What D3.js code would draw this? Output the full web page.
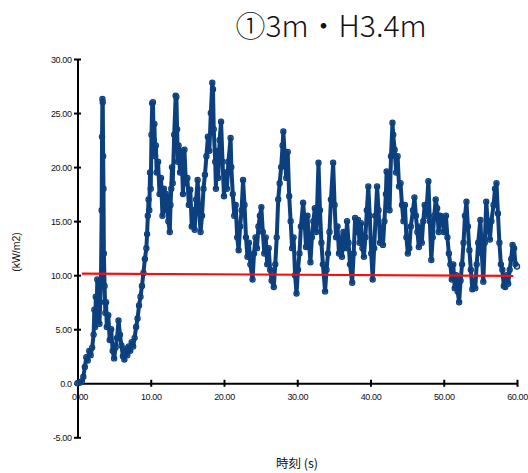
<!DOCTYPE html>
<html>
<head>
<meta charset="utf-8">
<script src="https://cdn.jsdelivr.net/npm/d3@7"></script>
<style>
  body { margin: 0; background: #fff; }
  svg { display: block; }
  .tick text { font-family: "Liberation Sans", Arial, sans-serif; font-size: 9px; letter-spacing: -0.4px; fill: #111; }
</style>
</head>
<body>
<script>
'use strict';

// series (time in s, value in kW/m2)
var times = [
  0.0, 0.2, 0.4, 0.6, 0.8, 1.0, 1.2, 1.4, 1.6, 1.8, 2.0, 2.2, 2.3, 2.4, 2.5, 2.6, 2.7, 2.8, 2.9, 3.0,
  3.1, 3.2, 3.3, 3.35, 3.4, 3.45, 3.5, 3.55, 3.6, 3.7, 3.8, 3.9, 4.0, 4.2, 4.4, 4.6, 4.8, 5.0, 5.2, 5.4,
  5.6, 5.8, 6.0, 6.2, 6.4, 6.6, 6.8, 7.0, 7.2, 7.4, 7.6, 7.8, 8.0, 8.2, 8.4, 8.6, 8.8, 9.0, 9.2, 9.4,
  9.5, 9.6, 9.7, 9.8, 9.9, 10.0, 10.1, 10.2, 10.3, 10.4, 10.5, 10.6, 10.7, 10.8, 11.0, 11.2, 11.4, 11.6, 11.8, 12.0,
  12.2, 12.4, 12.6, 12.7, 12.8, 12.9, 13.0, 13.2, 13.4, 13.5, 13.6, 13.7, 13.8, 14.0, 14.2, 14.4, 14.6, 14.8, 15.0, 15.2,
  15.4, 15.6, 15.8, 16.0, 16.2, 16.4, 16.6, 16.8, 17.0, 17.2, 17.4, 17.6, 17.8, 18.0, 18.2, 18.4, 18.5, 18.6, 18.8, 18.9,
  19.0, 19.2, 19.4, 19.6, 19.8, 20.0, 20.2, 20.4, 20.6, 20.9, 21.0, 21.2, 21.4, 21.6, 21.8, 22.0, 22.2, 22.4, 22.6, 22.8,
  23.0, 23.2, 23.4, 23.6, 23.9, 24.1, 24.3, 24.5, 24.7, 24.9, 25.1, 25.3, 25.5, 25.7, 25.9, 26.1, 26.3, 26.5, 26.8, 27.0,
  27.2, 27.4, 27.6, 27.8, 28.0, 28.1, 28.3, 28.5, 28.7, 28.9, 29.1, 29.3, 29.5, 29.7, 29.9, 30.1, 30.3, 30.5, 30.8, 31.0,
  31.2, 31.4, 31.6, 31.8, 32.0, 32.2, 32.4, 32.6, 32.9, 33.1, 33.3, 33.5, 33.8, 34.0, 34.2, 34.4, 34.6, 34.9, 35.1, 35.3,
  35.5, 35.7, 35.9, 36.1, 36.3, 36.6, 36.8, 37.0, 37.2, 37.5, 37.7, 37.9, 38.1, 38.3, 38.5, 38.7, 38.9, 39.1, 39.3, 39.5,
  39.7, 39.9, 40.1, 40.3, 40.5, 40.7, 40.9, 41.1, 41.3, 41.5, 41.7, 41.9, 42.1, 42.2, 42.4, 42.6, 42.8, 43.0, 43.1, 43.3,
  43.5, 43.7, 43.9, 44.1, 44.3, 44.5, 44.7, 44.9, 45.1, 45.3, 45.5, 45.8, 46.0, 46.2, 46.4, 46.6, 46.8, 47.0, 47.2, 47.4,
  47.6, 47.9, 48.1, 48.3, 48.5, 48.7, 48.9, 49.1, 49.3, 49.5, 49.8, 50.0, 50.3, 50.5, 50.7, 50.9, 51.1, 51.3, 51.5, 51.7,
  51.9, 52.1, 52.3, 52.5, 52.7, 52.9, 53.1, 53.3, 53.5, 53.7, 53.9, 54.1, 54.3, 54.5, 54.7, 55.0, 55.2, 55.4, 55.6, 55.8,
  56.0, 56.3, 56.5, 56.8, 57.0, 57.2, 57.4, 57.6, 57.8, 58.0, 58.2, 58.4, 58.6, 58.8, 59.0, 59.2, 59.4, 59.6, 59.8, 60.0
];
var heatFlux = [
  0.0, 0.05, 0.1, 0.2, 0.6, 1.5, 2.4, 2.1, 3.0, 2.6, 3.3, 4.5, 6.8, 5.2, 8.0, 6.0, 9.6, 7.0, 8.5, 5.5,
  7.5, 9.5, 16.0, 22.8, 26.3, 26.0, 21.0, 18.0, 12.0, 9.0, 6.5, 7.5, 5.2, 6.3, 4.0, 5.0, 3.0, 2.3, 3.3, 4.2,
  5.8, 4.5, 3.5, 2.5, 2.2, 3.2, 2.6, 3.4, 3.0, 3.8, 3.4, 4.2, 5.2, 6.0, 7.2, 8.0, 9.0, 10.2, 11.5, 12.5,
  13.8, 15.5, 17.0, 16.0, 19.5, 18.0, 23.0, 25.9, 26.0, 22.5, 24.0, 21.0, 22.0, 19.5, 20.5, 17.5, 19.0, 15.5, 18.0, 16.0,
  17.5, 15.0, 14.0, 16.5, 18.0, 20.0, 18.5, 23.0, 26.6, 26.5, 23.5, 20.5, 22.0, 19.5, 21.5, 17.5, 21.6, 18.5, 19.0, 16.5,
  17.9, 14.5, 16.0, 14.2, 17.0, 18.8, 16.0, 14.0, 15.5, 18.0, 19.3, 21.0, 22.8, 21.5, 25.0, 27.8, 27.2, 23.5, 20.5, 18.0,
  21.5, 19.0, 22.5, 24.2, 20.5, 17.3, 19.5, 18.0, 20.5, 22.7, 20.0, 17.5, 15.5, 16.5, 13.5, 12.3, 14.5, 16.0, 18.8, 16.5,
  13.5, 11.7, 13.0, 11.0, 9.6, 12.0, 13.5, 12.5, 14.5, 15.5, 16.3, 14.0, 12.0, 13.5, 11.0, 12.5, 10.5, 9.5, 8.9, 11.0,
  13.5, 17.0, 18.5, 20.0, 22.0, 23.3, 21.0, 19.0, 21.4, 17.3, 15.0, 12.5, 13.5, 10.0, 8.3, 10.5, 12.0, 14.5, 16.7, 15.0,
  12.6, 15.5, 13.0, 11.2, 13.5, 15.0, 16.2, 14.0, 20.4, 16.0, 13.0, 11.0, 8.5, 10.5, 12.0, 14.0, 17.0, 20.4, 16.5, 13.5,
  14.5, 12.0, 13.5, 11.7, 14.0, 12.5, 15.0, 13.0, 11.0, 9.3, 12.0, 15.3, 14.0, 15.1, 13.0, 14.8, 12.5, 11.7, 13.5, 16.0,
  18.2, 15.5, 12.0, 9.6, 12.5, 15.5, 18.2, 16.0, 13.0, 14.5, 12.8, 15.0, 17.5, 19.6, 17.0, 16.0, 21.0, 24.1, 23.0, 21.6,
  19.5, 21.0, 18.2, 18.5, 16.5, 15.0, 16.5, 13.5, 12.0, 12.5, 14.5, 16.0, 17.2, 15.5, 14.0, 12.6, 14.5, 13.0, 15.0, 16.5,
  15.5, 18.7, 15.0, 11.4, 13.5, 15.5, 17.0, 16.2, 14.0, 15.5, 15.4, 14.0, 15.5, 13.5, 12.0, 11.0, 9.6, 11.0, 8.8, 10.0,
  8.5, 7.5, 9.5, 11.0, 13.0, 15.5, 16.8, 14.5, 12.3, 10.5, 8.7, 9.5, 8.8, 11.0, 13.0, 15.1, 12.0, 9.4, 13.0, 16.8,
  15.0, 13.3, 15.0, 16.5, 18.0, 18.5, 15.7, 13.0, 11.0, 10.5, 9.0, 8.9, 10.0, 9.2, 10.5, 11.5, 12.8, 12.5, 11.0, 10.8
];

// red reference line (two end points)
var refTimes = [0.6, 59.5];
var refValues = [10.15, 9.93];

var xTicks = [0, 10, 20, 30, 40, 50, 60];
var xTickLabels = ['0.00', '10.00', '20.00', '30.00', '40.00', '50.00', '60.00'];
var yTicks = [-5, 0, 5, 10, 15, 20, 25, 30];
var yTickLabels = ['-5.00', '0.0', '5.00', '10.00', '15.00', '20.00', '25.00', '30.00'];

var width = 528, height = 473;

var svg = d3.select('body').append('svg')
  .attr('width', width)
  .attr('height', height);

var x = d3.scaleLinear().domain([0, 60]).range([77.5, 517]);
var y = d3.scaleLinear().domain([-5, 30]).range([437.3, 59]);

// title
svg.append('text')
  .attr('x', 331)
  .attr('y', 37)
  .attr('text-anchor', 'middle')
  .style('font-family', '"Noto Sans CJK JP", "Noto Sans", sans-serif')
  .style('font-weight', 300)
  .style('font-size', '30px')
  .style('fill', '#111')
  .text('①3m・H3.4m');

// axes
var yAxis = d3.axisLeft(y)
  .tickValues(yTicks)
  .tickFormat(function(d, i) { return yTickLabels[i]; })
  .tickSizeOuter(0)
  .tickPadding(5);

var xAxis = d3.axisBottom(x)
  .tickValues(xTicks)
  .tickFormat(function(d, i) { return xTickLabels[i]; })
  .tickSizeOuter(0)
  .tickPadding(6);

var gy = svg.append('g')
  .attr('transform', 'translate(' + x(0) + ',0)')
  .call(yAxis);

var gx = svg.append('g')
  .attr('transform', 'translate(0,' + y(0) + ')')
  .call(xAxis);

[gx, gy].forEach(function(g) {
  g.select('.domain').attr('stroke', '#000').attr('stroke-width', 2);
  g.selectAll('.tick line').attr('stroke', '#000').attr('stroke-width', 2);
});
gy.selectAll('.tick line').attr('x1', 3.5).attr('x2', -3.5);
gx.selectAll('.tick line').attr('y1', -3.5).attr('y2', 3.5);
gy.selectAll('.tick text').attr('x', -6).attr('dy', '0.36em');
gx.selectAll('.tick text').attr('y', 10);
gx.selectAll('.tick').filter(function(d) { return d === 0; }).select('text').attr('x', 2);

// axis titles
svg.append('text')
  .attr('transform', 'translate(20,252) rotate(-90)')
  .attr('text-anchor', 'middle')
  .style('font-family', '"Liberation Sans", Arial, sans-serif')
  .style('font-size', '10.5px')
  .style('fill', '#111')
  .text('(kW/m2)');

svg.append('text')
  .attr('x', 297)
  .attr('y', 468)
  .attr('text-anchor', 'middle')
  .style('font-family', '"Noto Sans CJK JP", sans-serif')
  .style('font-size', '12.5px')
  .style('fill', '#111')
  .text('時刻 (s)');

// series
var data = times.map(function(t, i) { return {t: t, v: heatFlux[i]}; });

var line = d3.line()
  .x(function(d) { return x(d.t); })
  .y(function(d) { return y(d.v); });

// markers go under the line so only their rims show, like the dense original
svg.append('g').selectAll('circle')
  .data(data)
  .enter().append('circle')
  .attr('cx', function(d) { return x(d.t); })
  .attr('cy', function(d) { return y(d.v); })
  .attr('r', 2.6)
  .attr('fill', '#b9cbe3')
  .attr('stroke', '#0b3f7e')
  .attr('stroke-width', 1.2);

svg.append('path')
  .datum(data)
  .attr('d', line)
  .attr('fill', 'none')
  .attr('stroke', '#0b3f7e')
  .attr('stroke-width', 4)
  .attr('stroke-linejoin', 'round');

// red line
var refData = refTimes.map(function(t, i) { return {t: t, v: refValues[i]}; });
svg.append('path')
  .datum(refData)
  .attr('d', line)
  .attr('fill', 'none')
  .attr('stroke', '#f51010')
  .attr('stroke-width', 2.2);
</script>
</body>
</html>
